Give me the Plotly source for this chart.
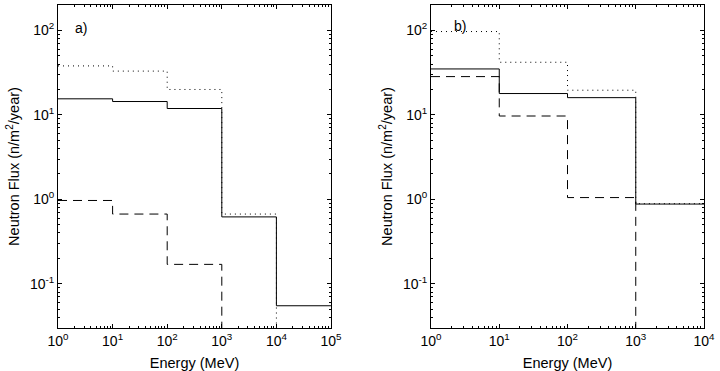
import plotly.graph_objects as go
import numpy as np

# Panel a: bin edges (MeV) and flux values
edges_a = [1, 10, 100, 1e3, 1e4, 1e5]
solid_a = [15.5, 14.4, 11.9, 0.62, 0.055]
dotted_a = [38, 33, 20, 0.67, 0.01]
dashed_a = [0.97, 0.67, 0.17, 0.01, 0.01]

# Panel b
edges_b = [1, 10, 100, 1e3, 1e4]
solid_b = [35, 17.9, 16.0, 0.88]
dotted_b = [97, 42, 19.6, 0.89]
dashed_b = [28.4, 9.7, 1.05, 0.01]

xticks_a = [0, 1, 2, 3, 4, 5]
xticks_b = [0, 1, 2, 3, 4]
yticks = [-1, 0, 1, 2]

FONT = "Liberation Sans, Arial, sans-serif"

fig = go.Figure()

def step(edges, vals):
    return list(edges), list(vals) + [vals[-1]]

styles = ["solid", "1px,4px", "9px,6px"]

for (xa, ya, edges, series) in [("x", "y", edges_a, [solid_a, dotted_a, dashed_a]),
                                 ("x2", "y2", edges_b, [solid_b, dotted_b, dashed_b])]:
    for vals, dash in zip(series, styles):
        x, y = step(edges, vals)
        fig.add_trace(go.Scatter(
            x=x, y=y, mode="lines", xaxis=xa, yaxis=ya,
            line=dict(color="black", width=1, shape="hv", dash=dash),
            showlegend=False, hoverinfo="skip"))

def xaxis(ticks, domain, anchor):
    return dict(type="log", domain=domain, anchor=anchor,
                range=[ticks[0], ticks[-1]],
                tickvals=[10 ** t for t in ticks],
                ticktext=[f"10<sup>{t}</sup>" for t in ticks],
                showline=True, linecolor="black", linewidth=1, mirror="ticks",
                ticks="inside", ticklen=4, tickcolor="black",
                minor=dict(ticks="inside", ticklen=2, tickcolor="black",
                           tickvals=[m * 10 ** d for d in range(ticks[0], ticks[-1]) for m in range(2, 10)]),
                showgrid=False, zeroline=False, automargin=False,
                tickfont=dict(size=14, color="black", family=FONT),
                title=dict(text="Energy (MeV)", font=dict(size=14.5, color="black", family=FONT), standoff=11))

def yaxis(anchor):
    minors = [m * 10 ** d for d in range(-2, 3) for m in range(2, 10)]
    minors = [v for v in minors if 0.03 <= v <= 200]
    return dict(type="log", domain=[0, 1], anchor=anchor,
                range=[np.log10(0.03), np.log10(200)],
                tickvals=[10 ** t for t in yticks],
                ticktext=[f"10<sup>{t}</sup>" for t in yticks],
                showline=True, linecolor="black", linewidth=1, mirror="ticks",
                ticks="inside", ticklen=4, tickcolor="black",
                minor=dict(ticks="inside", ticklen=2, tickcolor="black", tickvals=minors),
                showgrid=False, zeroline=False, automargin=False,
                tickfont=dict(size=14, color="black", family=FONT),
                title=dict(text="Neutron Flux (n/m<sup>2</sup>/year)",
                           font=dict(size=14.5, color="black", family=FONT), standoff=6))

fig.update_layout(
    width=720, height=371,
    margin=dict(l=58, r=16, t=5, b=43),
    paper_bgcolor="white", plot_bgcolor="white",
    xaxis=xaxis(xticks_a, [0, 0.4226], "y"),
    yaxis=yaxis("x"),
    xaxis2=xaxis(xticks_b, [0.5774, 1], "y2"),
    yaxis2=yaxis("x2"),
    font=dict(family=FONT, color="black"),
)

fig.add_annotation(x=0.275, y=np.log10(108), xref="x", yref="y", text="a)",
                   showarrow=False, xanchor="left", font=dict(size=14, color="black", family=FONT))
fig.add_annotation(x=0.303, y=np.log10(112), xref="x2", yref="y2", text="b)",
                   showarrow=False, xanchor="left", font=dict(size=14, color="black", family=FONT))

fig.write_html("out.html", config={"displayModeBar": False},
               post_script="document.body.style.margin='0';")
